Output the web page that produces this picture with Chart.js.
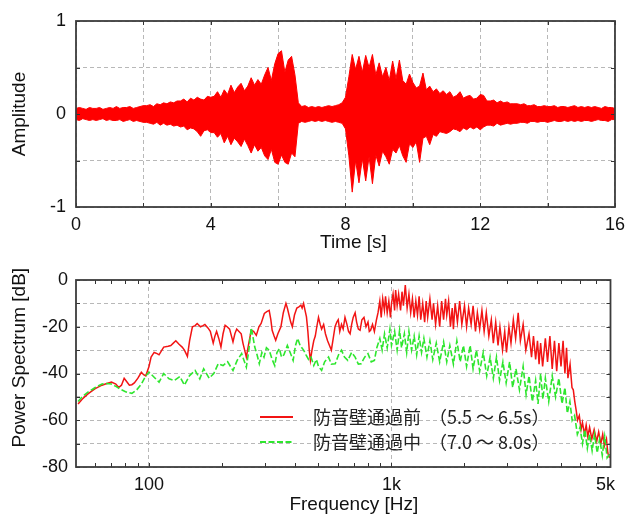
<!DOCTYPE html>
<html>
<head>
<meta charset="utf-8">
<script src="https://cdn.jsdelivr.net/npm/chart.js@4.4.1/dist/chart.umd.min.js"></script>
<style>
  html, body { margin: 0; padding: 0; background: #fff; }
  #wrap { position: relative; width: 632px; height: 518px; }
  #wave { position: absolute; left: 0; top: 0; }
  #spec { position: absolute; left: 0; top: 250px; }
</style>
</head>
<body>
<div id="wrap">
  <canvas id="wave" width="632" height="262"></canvas>
  <canvas id="spec" width="632" height="268"></canvas>
</div>
<script>
// ---- waveform: envelope read every 0.1 s (upper / lower peaks) ----
const ampUpper = [
  0.06,0.07,0.06,0.05,0.07,0.06,0.06,0.07,0.05,0.06,0.07,0.06,0.08,0.06,0.07,0.07,0.08,0.06,0.07,0.08,0.09,
  0.09,0.10,0.08,0.11,0.10,0.12,0.11,0.13,0.12,0.14,
  0.14,0.16,0.13,0.17,0.15,0.18,0.16,0.15,0.19,0.18,
  0.19,0.24,0.18,0.26,0.21,0.31,0.23,0.29,0.33,0.25,
  0.30,0.39,0.31,0.37,0.32,0.42,0.50,0.36,0.54,0.65,
  0.68,0.45,0.58,0.62,0.42,0.12,0.08,0.09,0.07,0.08,
  0.07,0.08,0.07,0.08,0.09,0.08,0.09,0.10,0.12,0.18,
  0.40,0.64,0.48,0.62,0.45,0.63,0.50,0.64,0.42,0.55,
  0.40,0.50,0.36,0.57,0.38,0.58,0.36,0.32,0.43,0.34,
  0.28,0.30,0.44,0.26,0.30,0.24,0.27,0.22,0.25,0.21,
  0.24,0.18,0.20,0.24,0.17,0.19,0.20,0.16,0.17,0.21,
  0.20,0.14,0.14,0.15,0.12,0.14,0.12,0.13,0.11,0.11,
  0.11,0.10,0.11,0.09,0.09,0.10,0.08,0.08,0.09,0.08,
  0.08,0.09,0.07,0.08,0.08,0.07,0.08,0.09,0.07,0.08,
  0.07,0.08,0.07,0.08,0.07,0.06,0.08,0.07,0.07,0.06
];
const ampLower = [
  -0.06,-0.07,-0.05,-0.06,-0.07,-0.06,-0.07,-0.06,-0.05,-0.07,-0.06,-0.07,-0.07,-0.06,-0.08,-0.07,-0.06,-0.08,-0.07,-0.08,-0.09,
  -0.09,-0.10,-0.11,-0.09,-0.12,-0.10,-0.12,-0.11,-0.13,-0.12,
  -0.14,-0.13,-0.17,-0.15,-0.16,-0.19,-0.24,-0.18,-0.17,-0.20,
  -0.20,-0.25,-0.21,-0.31,-0.24,-0.33,-0.26,-0.30,-0.35,-0.27,
  -0.34,-0.42,-0.33,-0.40,-0.36,-0.45,-0.49,-0.38,-0.52,-0.54,
  -0.44,-0.52,-0.54,-0.42,-0.46,-0.10,-0.08,-0.09,-0.08,-0.07,
  -0.08,-0.07,-0.08,-0.07,-0.08,-0.09,-0.08,-0.09,-0.10,-0.16,
  -0.45,-0.84,-0.50,-0.74,-0.48,-0.72,-0.46,-0.75,-0.44,-0.56,
  -0.40,-0.46,-0.54,-0.38,-0.42,-0.34,-0.45,-0.52,-0.32,-0.36,
  -0.30,-0.52,-0.26,-0.24,-0.33,-0.22,-0.24,-0.19,-0.20,-0.21,
  -0.19,-0.16,-0.17,-0.19,-0.15,-0.17,-0.14,-0.16,-0.14,-0.17,
  -0.14,-0.12,-0.12,-0.13,-0.10,-0.12,-0.11,-0.10,-0.11,-0.10,
  -0.10,-0.09,-0.09,-0.10,-0.08,-0.08,-0.09,-0.08,-0.08,-0.09,
  -0.08,-0.07,-0.08,-0.08,-0.07,-0.08,-0.07,-0.08,-0.07,-0.08,
  -0.07,-0.07,-0.08,-0.07,-0.06,-0.07,-0.07,-0.08,-0.06,-0.06
];
// sample times (s), one per envelope reading
const timeSec = ampUpper.map((_, i) => i / 10);

// ---- power spectrum ----
const freqBefore = [51,53,56,60,64,67,70,73,75,77,79,81,83,85,87,90,93,95,97,100,102,105,108,110,113,115,120,123,126,129,133,137,140,144,147,151,155,158,163,167,170,175,179,184,187,190,194,198,202,206,210,215,222,226,230,235,240,244,248,252,258,264,270,277,284,290,299,306,313,318,322,328,333,340,350,358,367,372,378,384,390,398,407,415,423,428,434,440,446,452,458,463,470,478,485,492,500,508,515,525,534,545,555,565,575,585,595,603,612,622,632,643,655,665,675,685,695,708,718,730,742,755,770,785,800,810,820,835,850,867,
  880,895,907,920,935,945,960,975,990,1000,1015,1030,1040,1055,1070,1090,1105,1120,1140,1160,1180,1200,1220,1240,1260,1280,1300,1320,1345,1370,1390,1410,1440,1470,1490,1520,1550,1580,1610,1640,1670,1690,1720,1750,1780,1800,1830,1870,1910,1950,2000,2040,2080,2130,2170,2220,2260,2310,2360,2410,2460,2520,2580,2630,2690,2750,2800,2870,2930,2980,3050,3110,3180,3250,3330,3400,3490,3580,3690,3780,3850,3930,4000,4060,4120,4200,4310,4400,4500,4600,4700,4800,4900,5000,5100,5190,5270,5340,5450,5550,
  5620,5700,5780,5850,5950,6050,6130,6250,6350,6450,6560,6700,6850,7020,7150,7300,7430,7550,7700,7800,7920];
const dbBefore = [-53,-51,-48.7,-46.5,-45,-44.3,-43.7,-44.5,-46,-45,-42,-43.5,-45,-44.8,-44,-42,-39.5,-40.5,-41,-37,-33,-31,-31.5,-32,-30,-28.7,-28.3,-28,-27,-26,-27.5,-28.7,-30,-32.7,-26,-20,-19.5,-18.6,-20,-19.5,-19,-20.5,-22,-27,-24,-22,-25,-28.7,-23,-19.4,-20,-21,-26.5,-23,-21,-22,-23,-27,-30,-33,-27,-21.5,-22,-23.7,-20,-18.6,-14.3,-13.5,-13,-17,-21.5,-24,-25.8,-23,-20,-14,-10,-12,-15,-18,-20,-15,-12,-11.5,-10.8,-12,-10,-13,-15.8,-22,-30,-34.4,-30,-26,-24,-20,-16,-19,-21,-19,-23,-26,-28,-30,-25,-20,-18,-17,-22,-19,-21,-16,-19,-22,-23,-19,-16,-14,-18,-21,-21.5,-17,-16,-20,-18,-22,-21.5,-19,-22,-17,
  -14,-9,-16,-8,-13,-7,-14,-9,-16,-10,-6,-13,-4.3,-11,-6,-13,-5,-11,-2.2,-12,-6,-14,-8,-16,-9,-15,-7,-17,-10,-18,-9,-16,-8,-17,-10,-19,-11,-20,-9,-17,-8,-15,-9,-20,-12,-21,-10,-18,-9,-19,-11,-20,-12,-19,-11,-22,-14,-21,-13,-22,-14,-24,-17,-27,-18,-28,-20,-30,-22,-31,-20,-27,-17,-25,-14,-26,-19,-30,-23,-33,-24,-34,-26,-36,-27,-37,-25,-35,-24,-38,-26,-39,-27,-37,-26,-40,-29,-42,-36,-46,
  -47,-52,-56,-60,-58,-64,-61,-66,-62,-67,-63,-68,-64,-69,-65,-70,-66,-71,-68,-74,-76];

const freqDuring = [51,53,56,60,64,67,70,73,76,80,85,89,93,97,100,105,110,115,121,127,134,140,147,155,162,168,177,185,193,202,211,222,231,241,252,258,264,268,273,279,285,292,298,305,313,322,330,337,345,352,360,366,372,382,393,402,410,420,434,444,455,466,478,490,500,515,530,550,565,586,605,622,640,660,685,708,730,750,775,800,825,850,
  870,895,915,936,960,985,1000,1030,1055,1080,1100,1130,1155,1180,1210,1240,1270,1300,1330,1360,1400,1440,1480,1530,1580,1640,1690,1740,1800,1860,1920,1980,2040,2110,2170,2240,2310,2390,2470,2550,2630,2710,2790,2880,2970,3070,3160,3260,3370,3490,3590,3690,3810,3930,4020,4120,4210,4310,4450,4600,4750,4900,5050,5190,5310,5440,5560,5690,5840,5990,6130,6270,6420,6560,6720,6880,7050,7220,7400,7570,7750,7920];
const dbDuring = [-52,-50,-48,-46,-44.5,-44.3,-44.5,-45.5,-46.6,-47.8,-48.5,-47,-44.5,-41,-39.4,-41.6,-43.7,-40,-42.3,-43,-41.3,-45,-40.9,-38.7,-42.3,-38,-42,-40,-35.8,-36.6,-35,-38.7,-34.4,-31.5,-37.3,-30,-20.4,-24,-28.7,-32,-35.8,-31,-33,-29,-30,-34,-36.6,-31,-29.4,-33,-32,-30,-28,-31,-34.4,-28,-25,-28,-30,-32,-34,-33,-36.6,-34,-37,-38.7,-35,-33,-36,-35.8,-32,-30,-33,-34.4,-31,-33,-36,-35.8,-33,-31.5,-35,-34.4,
  -29,-25,-30,-23,-29,-21,-28,-22,-30,-21.5,-29,-23,-31,-22,-30,-24,-32,-24,-31,-25,-33,-26,-34,-27,-35,-26.5,-35,-28,-36,-26,-35,-28,-37,-28,-38,-30,-39,-31,-41,-33,-42,-33,-43,-35,-44,-35,-46,-38,-47,-37,-49,-41,-52,-43,-53,-40,-51,-42,-52,-41,-50,-42,-53,-46,-57,-52,-60,-58,-66,-63,-70,-64,-72,-66,-73,-66,-74,-68,-75,-67,-76,-74.5];

const freqTicks = [60,70,80,90,100,200,300,400,500,600,700,800,900,1000,2000,3000,4000,5000,6000,7000,8000];
const freqTickLabels = {100: '100', 1000: '1k', 8000: '5k  '};
const seriesLabels = ['防音壁通過前  （5.5 ～ 6.5s）', '防音壁通過中  （7.0 ～ 8.0s）'];

const FONT = 'Liberation Sans, Arial, sans-serif';
const GRID = '#b8b8b8';

// box frame with inward ticks
const framePlugin = {
  id: 'frame',
  afterDatasetsDraw(chart) {
    const { ctx, chartArea: a, scales } = chart;
    ctx.save();
    ctx.strokeStyle = '#333';
    ctx.lineWidth = 1;
    const len = 4;
    scales.x.ticks.forEach(t => {
      const px = Math.round(scales.x.getPixelForValue(t.value)) + 0.5;
      ctx.beginPath();
      ctx.moveTo(px, a.bottom); ctx.lineTo(px, a.bottom - len);
      ctx.moveTo(px, a.top); ctx.lineTo(px, a.top + len);
      ctx.stroke();
    });
    scales.y.ticks.forEach(t => {
      const py = Math.round(scales.y.getPixelForValue(t.value)) + 0.5;
      ctx.beginPath();
      ctx.moveTo(a.left, py); ctx.lineTo(a.left + len, py);
      ctx.moveTo(a.right, py); ctx.lineTo(a.right - len, py);
      ctx.stroke();
    });
    ctx.lineWidth = 1.8;
    ctx.strokeStyle = '#3c3c3c';
    ctx.strokeRect(a.left, a.top, a.right - a.left, a.bottom - a.top);
    ctx.restore();
  }
};

// legend drawn inside the spectrum plot
const legendPlugin = {
  id: 'inlegend',
  afterDatasetsDraw(chart) {
    const { ctx, chartArea: a } = chart;
    ctx.save();
    chart.data.datasets.forEach((ds, i) => {
      const y = a.top + 137 + i * 25;
      ctx.strokeStyle = ds.borderColor;
      ctx.lineWidth = 2;
      ctx.setLineDash(ds.borderDash || []);
      ctx.beginPath();
      ctx.moveTo(a.left + 184, y);
      ctx.lineTo(a.left + 217, y);
      ctx.stroke();
      ctx.setLineDash([]);
      ctx.fillStyle = '#222';
      ctx.font = '18px "Noto Sans CJK JP"';
      ctx.textBaseline = 'middle';
      ctx.fillText(ds.label, a.left + 237, y);
    });
    ctx.restore();
  }
};

new Chart(document.getElementById('wave'), {
  type: 'line',
  data: {
    datasets: [
      {
        data: timeSec.map((t, i) => ({ x: t, y: ampUpper[i] })),
        borderColor: '#ff0000', backgroundColor: '#ff0000',
        borderWidth: 1, pointRadius: 0, fill: '+1'
      },
      {
        data: timeSec.map((t, i) => ({ x: t, y: ampLower[i] })),
        borderColor: '#ff0000', backgroundColor: '#ff0000',
        borderWidth: 1, pointRadius: 0, fill: false
      }
    ]
  },
  options: {
    responsive: false,
    animation: false,
    layout: { padding: { left: 0, top: 21, right: 15, bottom: 0 } },
    plugins: { legend: { display: false }, tooltip: { enabled: false } },
    scales: {
      x: {
        type: 'linear', min: 0, max: 16,
        afterFit: s => { s.height = 55; },
        grid: { color: GRID, drawTicks: false },
        border: { display: false, dash: [4, 3] },
        ticks: {
          stepSize: 2, autoSkip: false, maxRotation: 0, padding: 7,
          color: '#111', font: { family: FONT, size: 18 },
          callback: v => (v % 4 === 0 ? String(v) : '')
        },
        title: { display: true, text: '   Time [s]', color: '#111',
          font: { family: FONT, size: 19 }, padding: { top: 0, bottom: 8 } }
      },
      y: {
        min: -1, max: 1,
        afterFit: s => { s.width = 76; },
        grid: { color: GRID, drawTicks: false },
        border: { display: false, dash: [4, 3] },
        ticks: {
          stepSize: 0.5, autoSkip: false, padding: 10,
          color: '#111', font: { family: FONT, size: 18 },
          callback: v => (Number.isInteger(v) ? String(v) : '')
        },
        title: { display: true, text: 'Amplitude', color: '#111',
          font: { family: FONT, size: 19 }, padding: { top: 8, bottom: 0 } }
      }
    }
  },
  plugins: [framePlugin]
});

new Chart(document.getElementById('spec'), {
  type: 'line',
  data: {
    datasets: [
      {
        label: seriesLabels[0],
        data: freqBefore.map((f, i) => ({ x: f, y: dbBefore[i] })),
        borderColor: '#f21414', borderWidth: 1.5, pointRadius: 0, order: 1
      },
      {
        label: seriesLabels[1],
        data: freqDuring.map((f, i) => ({ x: f, y: dbDuring[i] })),
        borderColor: '#2ee62e', borderWidth: 1.6, borderDash: [6, 2.5], pointRadius: 0, order: 0
      }
    ]
  },
  options: {
    responsive: false,
    animation: false,
    layout: { padding: { left: 0, top: 30, right: 17, bottom: 0 } },
    plugins: { legend: { display: false }, tooltip: { enabled: false } },
    scales: {
      x: {
        type: 'logarithmic', min: 50, max: 8000,
        afterFit: s => { s.height = 51; },
        afterBuildTicks: s => { s.ticks = freqTicks.map(v => ({ value: v })); },
        grid: {
          drawTicks: false,
          color: c => (c.tick && (c.tick.value === 100 || c.tick.value === 1000) ? GRID : 'rgba(0,0,0,0)')
        },
        border: { display: false, dash: [4, 3] },
        ticks: {
          autoSkip: false, maxRotation: 0, padding: 7,
          color: '#111', font: { family: FONT, size: 18 },
          callback: v => freqTickLabels[v] || ''
        },
        title: { display: true, text: '    Frequency [Hz]', color: '#111',
          font: { family: FONT, size: 19 }, padding: { top: 0, bottom: 2 } }
      },
      y: {
        min: -80, max: 0,
        afterFit: s => { s.width = 76; },
        grid: { color: GRID, drawTicks: false },
        border: { display: false, dash: [4, 3] },
        ticks: {
          stepSize: 10, autoSkip: false, padding: 8,
          color: '#111', font: { family: FONT, size: 18 },
          callback: v => (v % 20 === 0 ? String(v) : '')
        },
        title: { display: true, text: '      Power Spectrum [dB]', color: '#111',
          font: { family: FONT, size: 19 }, padding: { top: 8, bottom: 0 } }
      }
    }
  },
  plugins: [framePlugin, legendPlugin]
});
</script>
</body>
</html>
